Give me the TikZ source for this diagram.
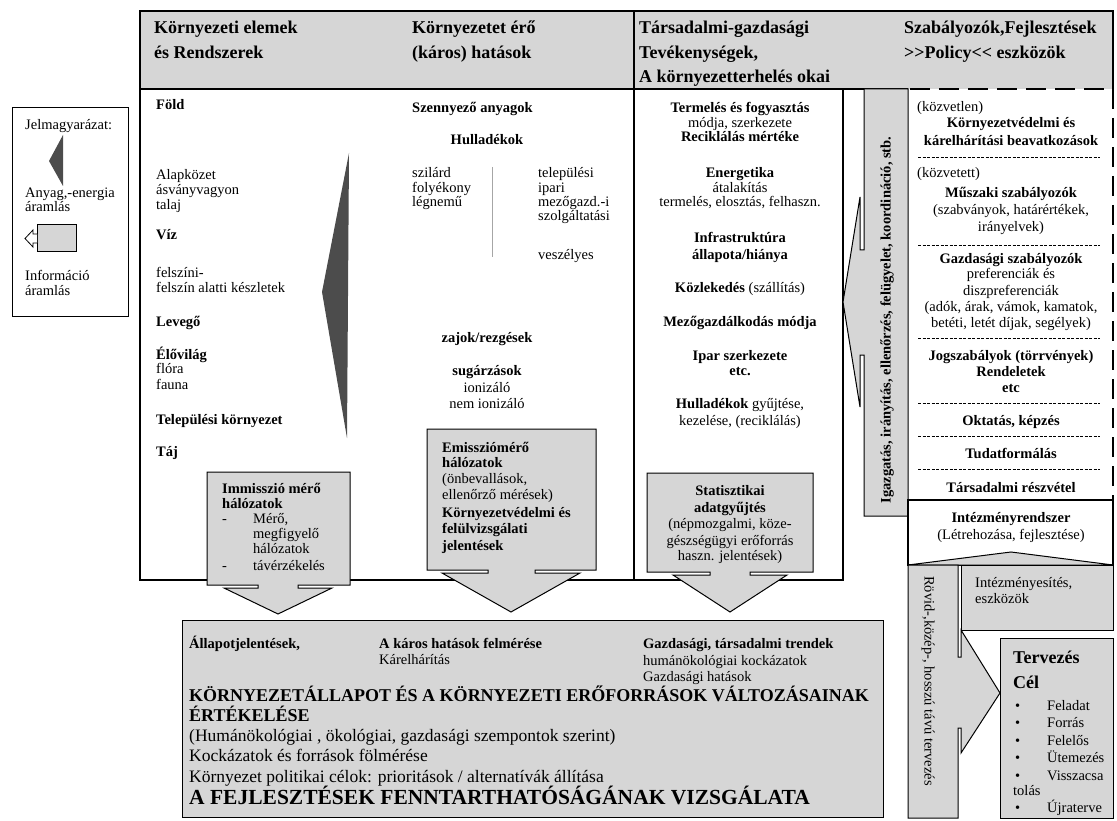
\documentclass[tikz,border=0pt]{standalone}
\usepackage{fontspec}
\setmainfont{Liberation Serif}

\newcommand\txsize{\fontsize{14.5}{16}\selectfont}
\newcommand\hdsize{\fontsize{18}{22}\selectfont}
\newcommand\mdsize{\fontsize{17.5}{20}\selectfont}
\newcommand\xlsize{\fontsize{21.5}{24}\selectfont}

\colorlet{boxgray}{black!16}
\definecolor{wedgegray}{gray}{0.3}

\tikzset{
  tl/.style={anchor=base west, inner sep=0pt, font=\txsize},
  tc/.style={anchor=base, inner sep=0pt, font=\txsize},
  hd/.style={anchor=base west, inner sep=0pt, font=\hdsize\bfseries},
  frame/.style={line width=1.4pt},
  infobox/.style={draw, fill=boxgray, line width=1pt},
  sepline/.style={dash pattern=on 3pt off 1.5pt, line width=0.5pt},
}

\begin{document}
\begin{tikzpicture}[x=1pt,y=-1pt]
\useasboundingbox (0,0) rectangle (1117,821);

% fejlec
\fill[boxgray] (140,11) rectangle (1113,89);
\draw[frame] (908,89) -- (140,89) -- (140,11) -- (1113,11) -- (1113,89);
\draw[frame] (634,11) -- (634,89);
\node[hd] (h1a) at (154,34) {Környezeti elemek};
\node[hd] (h1b) at (154,59) {és Rendszerek};
\node[hd] (h2a) at (412,34) {Környezetet érő};
\node[hd] (h2b) at (412,59) {(káros) hatások};
\node[hd] (h3a) at (639,34) {Társadalmi-gazdasági};
\node[hd] (h3b) at (639,59) {Tevékenységek,};
\node[hd] (h3c) at (639,83) {A környezetterhelés okai};
\node[hd] (h4a) at (904,34) {Szabályozók,Fejlesztések};
\node[hd] (h4b) at (904,59) {>\kern0pt>Policy<\kern0pt< eszközök};

% oszlopok keretei
\draw[frame] (140,89) -- (140,580) -- (843,580) -- (843,89);
\draw[frame] (634,89) -- (634,580);
\draw[line width=2.5pt, dash pattern=on 20pt off 9pt] (910,89) -- (1113,89) -- (1113,500);

% jelmagyarazat
\draw[line width=1pt] (12,108) rectangle (128,316);
\node[tl] (jel) at (25,130) {Jelmagyarázat:};
\fill[wedgegray] (63,135) -- (49,161) -- (63,186) -- cycle;
\node[tl] (jel1a) at (25,198) {Anyag,-energia};
\node[tl] (jel1b) at (25,212) {áramlás};
\draw[infobox] (37,225) rectangle (76,252);
\draw[fill=white, line width=0.8pt] (37,234) -- (33,234) -- (33,230) -- (25,238.5) -- (33,247) -- (33,243) -- (37,243);
\node[tl] (jel2a) at (25,280) {Információ};
\node[tl] (jel2b) at (25,295) {áramlás};

% kornyezeti elemek
\foreach \y/\t [count=\i] in {110/\textbf{Föld}, 180/Alapközet, 195/ásványvagyon, 210/talaj,
    240/\textbf{Víz}, 278/felszíni-, 293/felszín alatti készletek, 326/\textbf{Levegő},
    359/\textbf{Élővilág}, 373/flóra, 389/fauna, 424/\textbf{Települési környezet}, 456/\textbf{Táj}}
  \node[tl] (elem\i) at (156,\y) {\t};
\fill[wedgegray] (349,153) -- (322,292) -- (347,438) -- cycle;

% karos hatasok
\foreach \y/\t [count=\i] in {113/\textbf{Szennyező anyagok}, 178/szilárd, 193/folyékony, 207/légnemű}
  \node[tl] (hat\i) at (412,\y) {\t};
\foreach \y/\t [count=\i] in {178/települési, 193/ipari, 207/mezőgazd.-i, 221/szolgáltatási, 260/veszélyes}
  \node[tl] (hull\i) at (538,\y) {\t};
\draw[black!35, line width=0.8pt] (492,167) -- (492,257);
\foreach \y/\t [count=\i] in {145/\textbf{Hulladékok}, 342/{\textbf{zajok/rezgések}},
    375/\textbf{sugárzások}, 392/ionizáló, 408/nem ionizáló}
  \node[tc] (zaj\i) at (487,\y) {\t};

% tevekenysegek
\foreach \y/\t [count=\i] in {113/\textbf{Termelés és fogyasztás}, 128/{módja, szerkezete},
    142/\textbf{Reciklálás mértéke}, 178/\textbf{Energetika}, 193/átalakítás,
    207/{termelés, elosztás, felhaszn.}, 243/\textbf{Infrastruktúra}, 260/{\textbf{állapota/hiánya}},
    292/\textbf{Közlekedés} (szállítás), 326/\textbf{Mezőgazdálkodás módja},
    360/\textbf{Ipar szerkezete}, 375/\textbf{etc.}, 408/{\textbf{Hulladékok} gyűjtése,},
    425/{kezelése, (reciklálás)}}
  \node[tc] (tev\i) at (740,\y) {\t};

% informacio aramlas
\draw[infobox] (207,472) -- (350,472) -- (350,585) -- (298,585) -- (298,588) -- (332,588)
  -- (278,614) -- (224,588) -- (258,588) -- (258,585) -- (207,585) -- cycle;
\node[tl] (imm1) at (222,493) {\textbf{Immisszió mérő}};
\node[tl] (imm2) at (222,508) {\textbf{hálózatok}};
\node[tl] (imm3) at (222,523) {-};
\node[tl] (imm4) at (253,523) {Mérő,};
\node[tl] (imm5) at (253,538) {megfigyelő};
\node[tl] (imm6) at (253,553) {hálózatok};
\node[tl] (imm7) at (222,570) {-};
\node[tl] (imm8) at (253,570) {távérzékelés};

\draw[infobox] (427,429) -- (596,429) -- (596,570) -- (535,570) -- (535,573) -- (580,573)
  -- (511,612) -- (442,573) -- (488,573) -- (488,570) -- (427,570) -- cycle;
\foreach \y/\t [count=\i] in {452/\textbf{Emissziómérő}, 467/\textbf{hálózatok}, 483/{(önbevallások,},
    499/{ellenőrző mérések)}, 517/\textbf{Környezetvédelmi és}, 533/\textbf{felülvizsgálati},
    550/\textbf{jelentések}}
  \node[tl] (emi\i) at (442,\y) {\t};

\draw[infobox] (647,473) -- (813,473) -- (813,572) -- (750,572) -- (750,575) -- (787,575)
  -- (730,612) -- (673,575) -- (710,575) -- (710,572) -- (647,572) -- cycle;
\foreach \y/\t [count=\i] in {495/\textbf{Statisztikai}, 512/\textbf{adatgyűjtés},
    528/{(népmozgalmi, köze-}, 545/gészségügyi erőforrás, 560/{haszn. jelentések)}}
  \node[tc] (stat\i) at (730,\y) {\t};

% igazgatas
\draw[infobox] (864,89) -- (908,89) -- (908,516) -- (864,516) -- (864,355) -- (860,355)
  -- (860,407) -- (843,302) -- (860,197) -- (860,250) -- (864,250) -- cycle;
\node[font=\txsize\bfseries, rotate=90, inner sep=0pt] (igazg) at (887,320)
  {Igazgatás, irányítás, ellenőrzés, felügyelet, koordináció, stb.};

% szabalyozok
\node[tl] (kozv1) at (917,112) {(közvetlen)};
\node[tl] (kozv2) at (917,178) {(közvetett)};
\foreach \y/\t [count=\i] in {128/\textbf{Környezetvédelmi és}, 146/\textbf{kárelhárítási beavatkozások},
    198/\textbf{Műszaki szabályozók}, 215/{(szabványok, határértékek,}, 232/{irányelvek)},
    264/\textbf{Gazdasági szabályozók}, 279/preferenciák és, 295/diszpreferenciák,
    311/{(adók, árak, vámok, kamatok,}, 327/{betéti, letét díjak, segélyek)},
    360/\textbf{Jogszabályok (törrvények)}, 376/\textbf{Rendeletek}, 392/\textbf{etc},
    425/{\textbf{Oktatás, képzés}}, 458/\textbf{Tudatformálás}, 492/\textbf{Társadalmi részvétel}}
  \node[tc] (szab\i) at (1011,\y) {\t};
\foreach \y in {157,245,338,403,436,469}
  \draw[sepline] (918,\y) -- (1100,\y);

% intezmenyrendszer
\draw[line width=1.3pt, fill=white] (908,500) rectangle (1113,565);
\node[tc] (int1) at (1011,522) {\textbf{Intézményrendszer}};
\node[tc] (int2) at (1011,539) {(Létrehozása, fejlesztése)};
\draw[infobox] (908,565) -- (1011,552) -- (1113,565) -- cycle;
\draw[infobox] (908,565) -- (958,565) -- (958,657) -- (961,657) -- (961,630) -- (1000,693)
  -- (961,753) -- (961,728) -- (958,728) -- (958,818) -- (908,818) -- cycle;
\node[font=\txsize, rotate=-90, inner sep=0pt] (rovid) at (928,681) {Rövid-,közép-, hosszú távú tervezés};
\draw[infobox] (961,565) rectangle (1113,630);
\node[tl] (inte1) at (975,587) {Intézményesítés,};
\node[tl] (inte2) at (975,603) {eszközök};

% tervezes
\draw[infobox] (1000,638) rectangle (1113,818);
\node[anchor=base west, inner sep=0pt, font=\hdsize\bfseries] (terv1) at (1013,663) {Tervezés};
\node[anchor=base west, inner sep=0pt, font=\hdsize\bfseries] (terv2) at (1013,688) {Cél};
\foreach \y/\t [count=\i] in {710/Feladat, 727/Forrás, 745/Felelős, 762/Ütemezés, 780/Visszacsa, 812/Újraterve} {
  \node[tl] (pont\i) at (1015,\y) {•};
  \node[tl] (cel\i) at (1047,\y) {\t};
}
\node[tl] (tolas) at (1013,795) {tolás};

% ertekeles
\draw[infobox] (182,620) rectangle (883,817);
\node[tl] (ert1) at (189,648) {\textbf{Állapotjelentések,}};
\node[tl] (ert2) at (379,648) {\textbf{A káros hatások felmérése}};
\node[tl] (ert3) at (379,664) {Kárelhárítás};
\node[tl] (ert4) at (643,648) {\textbf{Gazdasági, társadalmi trendek}};
\node[tl] (ert5) at (643,665) {humánökológiai kockázatok};
\node[tl] (ert6) at (643,681) {Gazdasági hatások};
\node[anchor=base west, inner sep=0pt, font=\hdsize\bfseries] (ert7) at (189,701)
  {KÖRNYEZETÁLLAPOT ÉS A KÖRNYEZETI ERŐFORRÁSOK VÁLTOZÁSAINAK};
\node[anchor=base west, inner sep=0pt, font=\hdsize\bfseries] (ert8) at (189,721) {ÉRTÉKELÉSE};
\foreach \y/\t [count=\i] in {741/{(Humánökológiai , ökológiai, gazdasági szempontok szerint)},
    761/Kockázatok és források fölmérése / elemzése,
    782/{Környezet politikai célok: prioritások / alternatívák állítása}}
  \node[anchor=base west, inner sep=0pt, font=\mdsize] (szemp\i) at (189,\y) {\t};
\node[anchor=base west, inner sep=0pt, font=\xlsize\bfseries] (ert9) at (189,804)
  {A FEJLESZTÉSEK FENNTARTHATÓSÁGÁNAK VIZSGÁLATA};

\end{tikzpicture}
\end{document}
